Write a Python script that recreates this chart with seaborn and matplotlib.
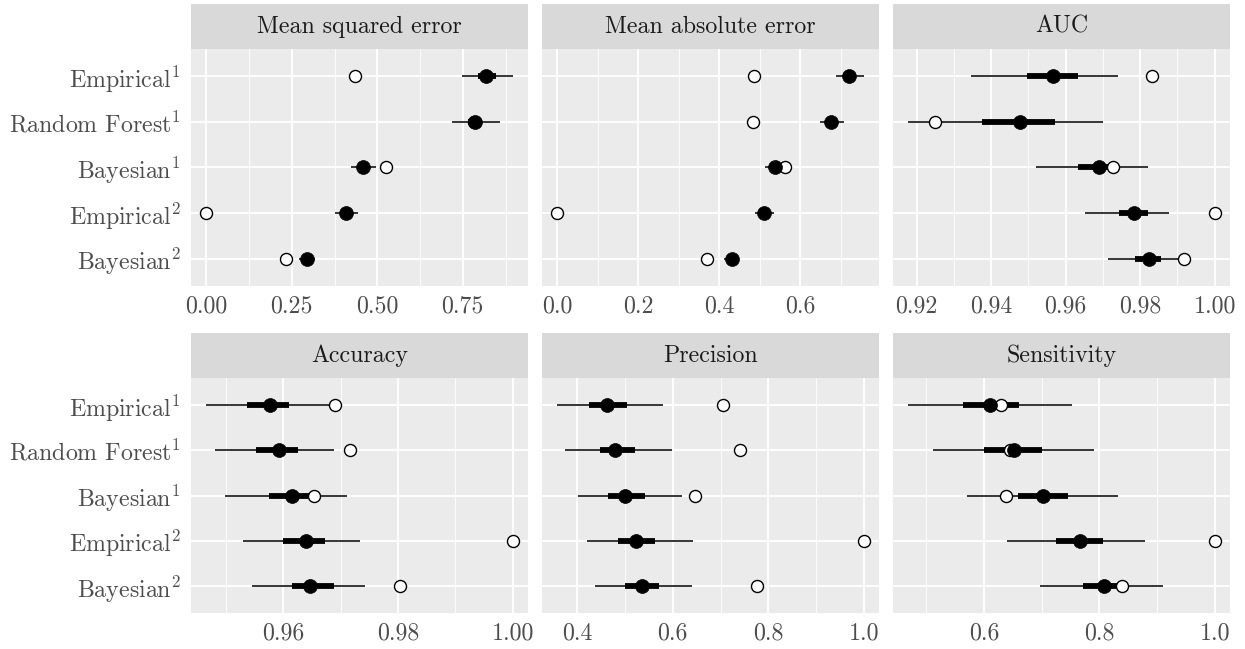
import numpy as np
import matplotlib
matplotlib.use("Agg")
import matplotlib.pyplot as plt
import seaborn as sns
from matplotlib.ticker import MultipleLocator, FormatStrFormatter, NullLocator

# ---------------- data ----------------
methods = ["Empirical$^1$", "Random Forest$^1$", "Bayesian$^1$", "Empirical$^2$", "Bayesian$^2$"]

metric_titles = ["Mean squared error", "Mean absolute error", "AUC",
                 "Accuracy", "Precision", "Sensitivity"]

# Mean squared error
mse_lo95 = [0.748, 0.718, 0.423, 0.376, 0.270]
mse_lo50 = [0.795, 0.765, 0.443, 0.393, 0.282]
mse_med  = [0.818, 0.785, 0.458, 0.408, 0.294]
mse_hi50 = [0.846, 0.805, 0.473, 0.423, 0.307]
mse_hi95 = [0.896, 0.858, 0.495, 0.445, 0.319]
mse_obs  = [0.435, 0.783, 0.526, 0.000, 0.232]

# Mean absolute error
mae_lo95 = [0.689, 0.648, 0.514, 0.488, 0.412]
mae_lo50 = [0.705, 0.663, 0.526, 0.500, 0.421]
mae_med  = [0.720, 0.677, 0.537, 0.510, 0.431]
mae_hi50 = [0.738, 0.690, 0.549, 0.523, 0.442]
mae_hi95 = [0.757, 0.709, 0.555, 0.535, 0.450]
mae_obs  = [0.486, 0.483, 0.563, 0.000, 0.370]

# AUC
auc_lo95 = [0.9345, 0.9178, 0.9520, 0.9652, 0.9715]
auc_lo50 = [0.9497, 0.9376, 0.9632, 0.9744, 0.9785]
auc_med  = [0.9565, 0.9478, 0.9689, 0.9784, 0.9824]
auc_hi50 = [0.9632, 0.9571, 0.9725, 0.9821, 0.9857]
auc_hi95 = [0.9740, 0.9700, 0.9821, 0.9877, 0.9910]
auc_obs  = [0.9833, 0.9249, 0.9726, 1.0000, 0.9918]

# Accuracy
acc_lo95 = [0.9466, 0.9482, 0.9498, 0.9530, 0.9545]
acc_lo50 = [0.9537, 0.9553, 0.9576, 0.9600, 0.9616]
acc_med  = [0.9577, 0.9593, 0.9615, 0.9639, 0.9647]
acc_hi50 = [0.9610, 0.9625, 0.9650, 0.9672, 0.9688]
acc_hi95 = [0.9688, 0.9688, 0.9711, 0.9734, 0.9743]
acc_obs  = [0.9690, 0.9717, 0.9654, 1.0000, 0.9803]

# Precision
pre_lo95 = [0.358, 0.374, 0.402, 0.421, 0.436]
pre_lo50 = [0.425, 0.448, 0.465, 0.486, 0.500]
pre_med  = [0.462, 0.479, 0.500, 0.523, 0.535]
pre_hi50 = [0.504, 0.521, 0.542, 0.563, 0.572]
pre_hi95 = [0.579, 0.598, 0.619, 0.643, 0.640]
pre_obs  = [0.705, 0.741, 0.647, 1.000, 0.777]

# Sensitivity
sen_lo95 = [0.469, 0.511, 0.571, 0.640, 0.697]
sen_lo50 = [0.563, 0.600, 0.659, 0.725, 0.772]
sen_med  = [0.610, 0.652, 0.702, 0.766, 0.808]
sen_hi50 = [0.661, 0.700, 0.746, 0.806, 0.848]
sen_hi95 = [0.752, 0.790, 0.832, 0.879, 0.911]
sen_obs  = [0.630, 0.645, 0.638, 1.000, 0.839]

tick_steps = [0.25, 0.2, 0.02, 0.02, 0.2, 0.2]
tick_fmts = ["%.2f", "%.1f", "%.2f", "%.2f", "%.1f", "%.1f"]

panels = [
    (mse_lo95, mse_lo50, mse_med, mse_hi50, mse_hi95, mse_obs),
    (mae_lo95, mae_lo50, mae_med, mae_hi50, mae_hi95, mae_obs),
    (auc_lo95, auc_lo50, auc_med, auc_hi50, auc_hi95, auc_obs),
    (acc_lo95, acc_lo50, acc_med, acc_hi50, acc_hi95, acc_obs),
    (pre_lo95, pre_lo50, pre_med, pre_hi50, pre_hi95, pre_obs),
    (sen_lo95, sen_lo50, sen_med, sen_hi50, sen_hi95, sen_obs),
]

# ---------------- style ----------------
sns.set_style("white")
plt.rcParams["font.family"] = ["cmr10", "DejaVu Serif"]
plt.rcParams["mathtext.fontset"] = "cm"
plt.rcParams["axes.formatter.use_mathtext"] = True
plt.rcParams["axes.unicode_minus"] = False

W, H = 1245, 649
fig = plt.figure(figsize=(W / 100, H / 100), dpi=100)
fig.patch.set_facecolor("white")

col_x = [191, 542, 893]
col_w = 337
rows = [(49, 286), (378, 613)]   # panel top / bottom in px
strip_h = 45

FS = 17.2
for i, (title, data) in enumerate(zip(metric_titles, panels)):
    r, c = divmod(i, 3)
    top, bot = rows[r]
    left = col_x[c]
    ax = fig.add_axes([left / W, 1 - bot / H, col_w / W, (bot - top) / H])
    ax.set_facecolor("#EBEBEB")
    lo95, lo50, med, hi50, hi95, obs = data

    sns.scatterplot(x=med, y=methods, ax=ax, s=100, color="black",
                    edgecolor="black", linewidth=0.5, zorder=6, legend=False)
    sns.scatterplot(x=obs, y=methods, ax=ax, s=75, facecolor="white",
                    edgecolor="black", linewidth=1.0, zorder=5, legend=False)
    ax.hlines(methods, lo95, hi95, color="black", lw=1.1, zorder=3)
    ax.hlines(methods, lo50, hi50, color="black", lw=4.2, zorder=4)

    ax.set_xmargin(0.05)
    ax.autoscale_view()
    ax.set_ylim(4.6, -0.6)

    step = tick_steps[i]
    ax.xaxis.set_major_locator(MultipleLocator(step))
    ax.xaxis.set_minor_locator(MultipleLocator(step / 2))
    ax.xaxis.set_major_formatter(FormatStrFormatter(tick_fmts[i]))
    ax.yaxis.set_minor_locator(NullLocator())

    ax.set_axisbelow(True)
    ax.grid(which="major", color="white", lw=1.3)
    ax.grid(which="minor", axis="x", color="white", lw=0.6)
    for s in ax.spines.values():
        s.set_visible(False)

    ax.tick_params(axis="x", which="major", length=4.5, width=0.8, color="#333333",
                   labelsize=FS, labelcolor="#4D4D4D", pad=2)
    ax.tick_params(which="minor", length=0)
    if c == 0:
        ax.tick_params(axis="y", which="major", length=4.5, width=0.8, color="#333333",
                       labelsize=FS, labelcolor="#4D4D4D", pad=3)
    else:
        ax.tick_params(axis="y", which="major", length=0, labelleft=False)
    ax.set_xlabel("")
    ax.set_ylabel("")

    sax = fig.add_axes([left / W, 1 - top / H, col_w / W, strip_h / H])
    sax.set_facecolor("#D9D9D9")
    sax.set_xticks([])
    sax.set_yticks([])
    for s in sax.spines.values():
        s.set_visible(False)
    sax.text(0.5, 0.5, title, ha="center", va="center", fontsize=FS,
             color="#1A1A1A", transform=sax.transAxes)

fig.savefig("out.png", dpi=100, facecolor="white")
